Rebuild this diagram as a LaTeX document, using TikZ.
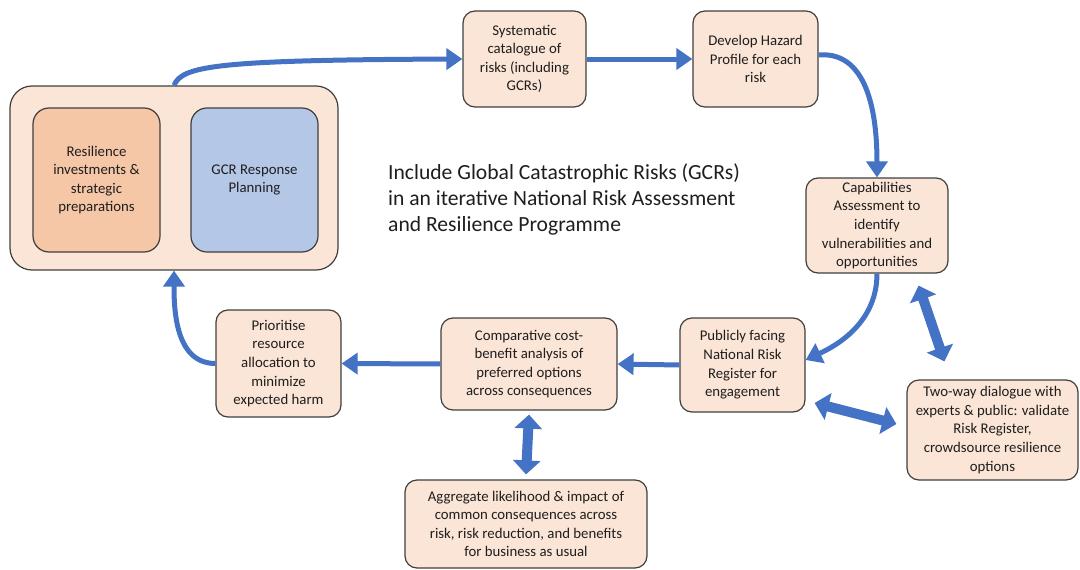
\documentclass[tikz,border=0pt]{standalone}
\usepackage{fontspec}
\setmainfont{Carlito}
\usetikzlibrary{arrows.meta}
\definecolor{peach}{HTML}{FBE5D6}
\definecolor{salmon}{HTML}{F6C7A7}
\definecolor{paleblue}{HTML}{B4C7E7}
\definecolor{boxedge}{HTML}{3F3F3F}
\definecolor{flowblue}{HTML}{4472C4}
\definecolor{flowedge}{HTML}{2F528F}
\definecolor{inktext}{HTML}{1E1E1E}
\begin{document}
\begin{tikzpicture}[x=1pt,y=-1pt,
  box/.style={draw=boxedge, fill=peach, rounded corners=12pt, line width=1.2pt,
    align=center, inner sep=0pt, text=inktext,
    font=\fontsize{14.8}{18.6}\selectfont},
  flow/.style={draw=flowblue, line width=5pt,
    -{Triangle[width=21pt,length=16pt]}},
  twoway/.style={draw=flowblue, line width=10pt,
    {Triangle[width=27pt,length=14pt]}-{Triangle[width=27pt,length=14pt]}}
]
\useasboundingbox (0,0) rectangle (1080,570);

% response and resilience group
\node[box, rounded corners=22pt, minimum width=328pt, minimum height=184pt] (outer) at (174,178) {};
\node[box, fill=salmon, rounded corners=16pt, minimum width=127pt, minimum height=144pt] (resil) at (96.5,180)
  {Resilience\\investments \&\\strategic\\preparations};
\node[box, fill=paleblue, rounded corners=16pt, minimum width=127pt, minimum height=144pt] (gcr) at (254.5,180)
  {GCR Response\\Planning};

% process steps
\node[box, minimum width=123pt, minimum height=96pt] (sys) at (524.5,59)
  {Systematic\\catalogue of\\risks (including\\GCRs)};
\node[box, minimum width=125pt, minimum height=96pt] (dev) at (755.5,59)
  {Develop Hazard\\Profile for each\\risk};
\node[box, minimum width=142pt, minimum height=95pt] (cap) at (877,225.5)
  {Capabilities\\Assessment to\\identify\\vulnerabilities and\\opportunities};
\node[box, minimum width=125pt, minimum height=94pt] (pub) at (742.5,365)
  {Publicly facing\\National Risk\\Register for\\engagement};
\node[box, minimum width=171pt, minimum height=100pt] (two) at (992.5,430)
  {Two-way dialogue with\\experts \& public: validate\\Risk Register,\\crowdsource resilience\\options};
\node[box, minimum width=176pt, minimum height=92pt] (comp) at (529,364)
  {Comparative cost-\\benefit analysis of\\preferred options\\across consequences};
\node[box, minimum width=125pt, minimum height=107pt] (prio) at (278.5,363.5)
  {Prioritise\\resource\\allocation to\\minimize\\expected harm};
\node[box, minimum width=242pt, minimum height=88pt] (agg) at (526,524)
  {Aggregate likelihood \& impact of\\common consequences across\\risk, risk reduction, and benefits\\for business as usual};

% title
\node[align=left, anchor=north west, inner sep=0pt, text=inktext,
  font=\fontsize{21.6}{26}\selectfont] (title) at (388,163)
  {Include Global Catastrophic Risks (GCRs)\\in an iterative National Risk Assessment\\and Resilience Programme};

% main cycle
\draw[flow] (outer.north) .. controls (182,66) and (215,60) .. (sys.west);
\draw[flow] (sys.east) -- (dev.west);
\draw[flow] ([yshift=4pt]dev.east) to[out=5,in=90] (cap.north);
\draw[flow] (cap.south) to[out=-90,in=25] ([yshift=5pt]pub.east);
\draw[flow] (pub.west) -- (comp.west -| comp.east);
\draw[flow] (comp.west) -- (prio.east);
\draw[flow] (prio.west) to[out=180,in=-90] (outer.south);

% two-way exchanges
\draw[twoway] ([yshift=-4pt]comp.south) -- ([yshift=5pt]agg.north);
\draw[twoway] ([xshift=9pt,yshift=-38pt]pub.east) -- ([xshift=-10pt,yshift=6pt]two.west);
\draw[twoway] ([xshift=-30pt,yshift=-12pt]cap.south east) -- ([xshift=38pt,yshift=18pt]two.north west);
\end{tikzpicture}
\end{document}
